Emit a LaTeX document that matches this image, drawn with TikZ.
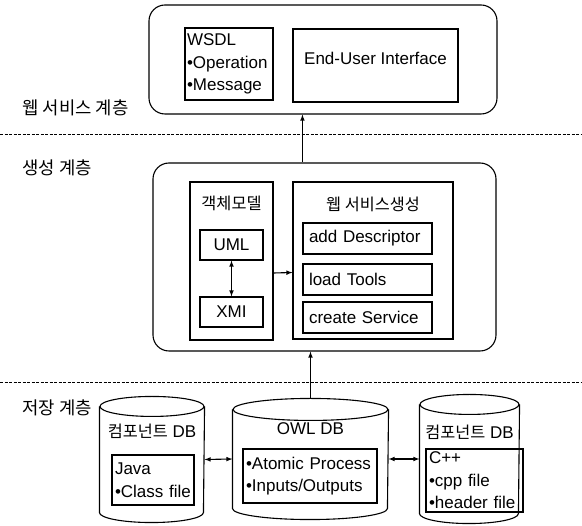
\documentclass[tikz,border=0pt]{standalone}
\usepackage{fontspec}
\setmainfont{Liberation Sans}
\newfontfamily\kr[Scale=0.96]{Noto Sans CJK KR}
\usetikzlibrary{positioning}

\begin{document}
\begin{tikzpicture}[x=1pt,y=-1pt,>=latex,line width=1.1pt,
        every node/.style={font=\fontsize{17}{22.5}\selectfont,inner sep=0pt},
        layerbox/.style={draw,rounded corners=16pt},
        plainbox/.style={draw},
        itembox/.style={draw,minimum height=31pt,text width=117pt,inner xsep=6pt,align=left},
        sepline/.style={dash pattern=on 3pt off 1.5pt,line width=0.8pt}]
    \useasboundingbox (0,0) rectangle (582,526);

    % layer names and separators
    \begin{scope}[every node/.style={font=\fontsize{18.5}{22}\selectfont,anchor=west,inner sep=0pt}]
        \node (L1) at (22,108) {\kr 웹 서비스 계층};
        \node (L2) at (22,168) {\kr 생성 계층};
        \node (L3) at (22,408) {\kr 저장 계층};
    \end{scope}
    \draw[sepline] (0,134) -- (582,134);
    \draw[sepline] (0,382) -- (582,382);

    % web service layer
    \node[layerbox,minimum width=348pt,minimum height=109pt] (web) at (323,59.5) {};
    \node[plainbox,minimum height=72pt,text width=84pt,inner xsep=2pt,align=left] (wsdl) at (229,64)
        {WSDL\\•Operation\\•Message};
    \node[plainbox,minimum width=165pt,minimum height=73pt,text depth=15pt] (eui) at (375.5,65.5)
        {End-User Interface};

    % generation layer
    \node[layerbox,minimum width=343pt,minimum height=188pt] (gen) at (324.5,257) {};
    \node[plainbox,minimum width=83pt,minimum height=158pt] (obj) at (231.5,261) {};
    \node[below=14pt of obj.north] (objT) {\kr 객체모델};
    \node[plainbox,minimum width=63pt,minimum height=30pt] (uml) at (231.5,245) {UML};
    \node[plainbox,minimum width=63pt,minimum height=30pt] (xmi) at (231.5,312) {XMI};
    \node[plainbox,minimum width=160pt,minimum height=157pt] (wsg) at (373,260.5) {};
    \node[below=15pt of wsg.north] (wsgT) {\kr 웹 서비스생성};
    \node[itembox] (add) at (367.5,238.5) {add Descriptor};
    \node[itembox] (load) at (367.5,279.5) {load Tools};
    \node[itembox] (create) at (367.5,317.5) {create Service};

    % storage layer
    \node[minimum width=104pt,minimum height=105pt] (javadb) at (152,459.5) {};
    \draw (javadb.north west) -- (javadb.south west)
        arc[start angle=180,end angle=360,x radius=52pt,y radius=10pt] -- (javadb.north east);
    \draw (javadb.north) ellipse[x radius=52pt,y radius=10pt];
    \node[below=17pt of javadb.north] (javaT) {{\kr 컴포넌트} DB};
    \node[plainbox,minimum height=50pt,text width=76pt,inner xsep=3pt,align=left] (java) at (153,480)
        {Java\\•Class file};

    \node[minimum width=155pt,minimum height=98pt] (owldb) at (310.5,459) {};
    \draw (owldb.north west) -- (owldb.south west)
        arc[start angle=180,end angle=360,x radius=77.5pt,y radius=11pt] -- (owldb.north east);
    \draw (owldb.north) ellipse[x radius=77.5pt,y radius=11pt];
    \node[below=13pt of owldb.north] (owlT) {OWL DB};
    \node[plainbox,minimum height=54pt,text width=128pt,inner xsep=3pt,align=left] (atomic) at (310,476)
        {•Atomic Process\\•Inputs/Outputs};

    \node[minimum width=99pt,minimum height=108pt] (cppdb) at (469.5,459) {};
    \draw (cppdb.north west) -- (cppdb.south west)
        arc[start angle=180,end angle=360,x radius=49.5pt,y radius=10pt] -- (cppdb.north east);
    \draw (cppdb.north) ellipse[x radius=49.5pt,y radius=10pt];
    \node[below=20pt of cppdb.north] (cppT) {{\kr 컴포넌트} DB};
    \node[plainbox,minimum height=63pt,text width=91pt,inner xsep=3pt,align=left] (cpp) at (474.5,480.5)
        {C++\\•cpp file\\•header file};

    % connectors
    \draw[->] (gen.north -| add.west) -- (web.south -| add.west);
    \draw[<->] (uml) -- (xmi);
    \draw[->] ([yshift=-12pt]obj.east) -- ([yshift=-12pt]wsg.west);
    \draw[->] ([yshift=11pt]owldb.north) -- (gen.south -| owldb.north);
    \draw[<->] (javadb.east) -- (owldb.west);
    \draw[<->] (owldb.east) -- (cppdb.west);
\end{tikzpicture}
\end{document}
